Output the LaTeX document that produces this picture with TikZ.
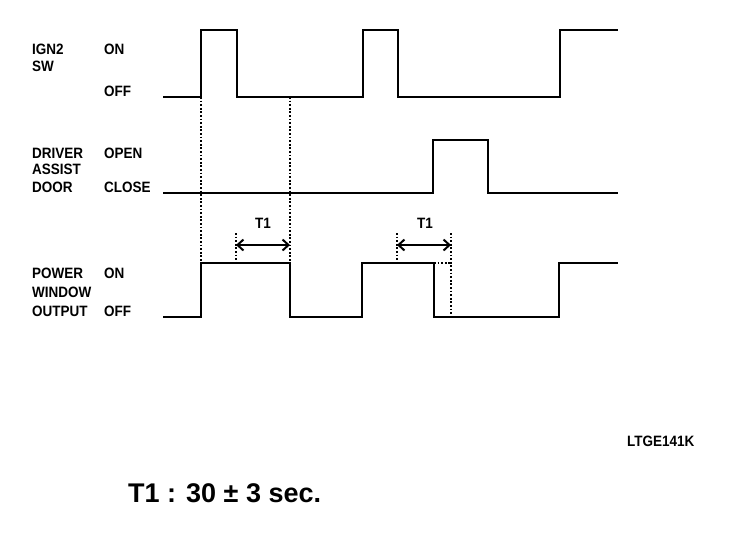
\documentclass[tikz,border=0pt]{standalone}
\usepackage{fontspec}
\setmainfont{Liberation Sans}
\newfontfamily\lblfont[FakeStretch=0.9]{Liberation Sans}
\usetikzlibrary{arrows.meta}

\tikzset{
  wave/.style={line width=2.2pt, line join=miter},
  guide/.style={line width=1.6pt, dash pattern=on 1.8pt off 1.8pt},
  span/.style={line width=2.2pt, {Straight Barb[length=6pt,width=11pt,line width=2pt]}-{Straight Barb[length=6pt,width=11pt,line width=2pt]}},
  lbl/.style={font=\lblfont\fontsize{15}{16}\selectfont\bfseries, anchor=base west, inner sep=0pt},
}

\begin{document}
\begin{tikzpicture}[x=1pt,y=-1pt]
    \useasboundingbox (0,0) rectangle (736,542);

    % ===== Signal names and levels =====
    \node[lbl] (ign)    at (32,54)  {IGN2};
    \node[lbl] (sw)     at (32,71)  {SW};
    \node[lbl] (ignon)  at (104,54) {ON};
    \node[lbl] (ignoff) at (104,96) {OFF};

    \node[lbl] (drv)    at (32,158)  {DRIVER};
    \node[lbl] (ast)    at (32,174)  {ASSIST};
    \node[lbl] (dor)    at (32,192)  {DOOR};
    \node[lbl] (dopen)  at (104,158) {OPEN};
    \node[lbl] (dclose) at (104,192) {CLOSE};

    \node[lbl] (pwr)    at (32,278)  {POWER};
    \node[lbl] (win)    at (32,297)  {WINDOW};
    \node[lbl] (out)    at (32,316)  {OUTPUT};
    \node[lbl] (pon)    at (104,278) {ON};
    \node[lbl] (poff)   at (104,316) {OFF};

    % ===== Waveforms =====
    % IGN2 SW
    \draw[wave] (163,97) -- (201,97) -- (201,30) -- (237,30) -- (237,97)
        -- (363,97) -- (363,30) -- (398,30) -- (398,97)
        -- (560,97) -- (560,30) -- (618,30);
    % driver / assist door
    \draw[wave] (163,193) -- (433,193) -- (433,140) -- (488,140) -- (488,193) -- (618,193);
    % power window output
    \draw[wave] (163,317) -- (201,317) -- (201,263) -- (290,263) -- (290,317)
        -- (362,317) -- (362,263) -- (434,263) -- (434,317)
        -- (559,317) -- (559,263) -- (618,263);

    % ===== Timing guides =====
    \coordinate (ka) at (236,245);
    \coordinate (kb) at (290,245);
    \coordinate (kc) at (397,245);
    \coordinate (kd) at (451,245);

    \draw[guide] (201,97) -- (201,263);
    \draw[guide] (290,97) -- (290,263);
    \draw[guide] (236,233) -- (236,263);
    \draw[guide] (397,233) -- (397,263);
    \draw[guide] (451,233) -- (451,317);
    \draw[guide] (434,263) -- (451,263);

    \draw[span] (ka) -- (kb);
    \draw[span] (kc) -- (kd);
    \node[lbl, anchor=base] (t1a) at (263,228) {T1};
    \node[lbl, anchor=base] (t1b) at (425,228) {T1};

    % ===== Figure code and note =====
    \node[lbl] (code) at (627,446) {LTGE141K};
    \node[anchor=base west, inner sep=0pt, font=\fontsize{27}{30}\selectfont\bfseries] (note) at (128,502) {T1 : 30 ± 3 sec.};
\end{tikzpicture}
\end{document}
